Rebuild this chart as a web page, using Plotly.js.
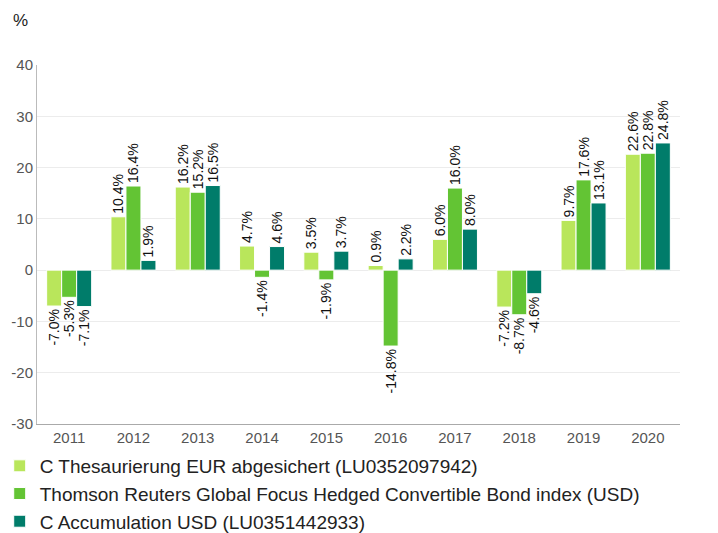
<!DOCTYPE html>
<html>
<head>
<meta charset="utf-8">
<script src="https://cdn.plot.ly/plotly-3.0.1.min.js"></script>
<style>html,body{margin:0;padding:0;background:#fff;}#chart{width:718px;height:533px;}</style>
</head>
<body>
<div id="chart"></div>
<script>
const years = ['2011','2012','2013','2014','2015','2016','2017','2018','2019','2020'];
const seriesNames = [
  'C Thesaurierung EUR abgesichert (LU0352097942)',
  'Thomson Reuters Global Focus Hedged Convertible Bond index (USD)',
  'C Accumulation USD (LU0351442933)'
];
const thesaurierungEUR = [-7.0, 10.4, 16.2, 4.7, 3.5, 0.9, 6.0, -7.2, 9.7, 22.6];
const thomsonIndex = [-5.3, 16.4, 15.2, -1.4, -1.9, -14.8, 16.0, -8.7, 17.6, 22.8];
const accumulationUSD = [-7.1, 1.9, 16.5, 4.6, 3.7, 2.2, 8.0, -4.6, 13.1, 24.8];
const colors = ['#b9e65b', '#63c434', '#007c6a'];
const yTicks = [-30, -20, -10, 0, 10, 20, 30, 40];

const seriesValues = [thesaurierungEUR, thomsonIndex, accumulationUSD];
const data = seriesValues.map((vals, i) => ({
  type: 'bar',
  name: seriesNames[i],
  x: years,
  y: vals,
  marker: {color: colors[i], line: {color: '#ffffff', width: 1}},
  texttemplate: '%{y:.1f}%',
  textposition: 'outside',
  textangle: -90,
  constraintext: 'none',
  cliponaxis: false,
  textfont: {family: 'Liberation Sans, Arial, sans-serif', size: 14, color: '#111'},
  hoverinfo: 'x+y+name'
}));

const layout = {
  width: 718, height: 533,
  margin: {l: 37, r: 38, t: 65, b: 109, autoexpand: false},
  paper_bgcolor: '#fff', plot_bgcolor: '#fff',
  barmode: 'group', bargap: 0.3, bargroupgap: 0.0,
  font: {family: 'Liberation Sans, Arial, sans-serif', color: '#444'},
  showlegend: true,
  legend: {
    orientation: 'v', x: -0.058, xanchor: 'left', y: -0.064, yanchor: 'top',
    font: {size: 19, color: '#222'}, traceorder: 'normal', itemwidth: 30,
    tracegroupgap: 0, bgcolor: 'rgba(0,0,0,0)'
  },
  xaxis: {
    type: 'category', showline: true, linecolor: '#aaa', linewidth: 1,
    ticks: '', tickfont: {size: 15, color: '#555'}, showgrid: false
  },
  yaxis: {
    range: [-30, 40], tickvals: yTicks, ticktext: yTicks.map(String),
    showline: true, linecolor: '#bbb', linewidth: 1,
    gridcolor: '#ececec', zeroline: true, zerolinecolor: '#ececec', zerolinewidth: 1,
    tickfont: {size: 15, color: '#555'}, ticks: '', ticklen: 0
  },
  annotations: [{
    text: '%', xref: 'paper', yref: 'paper', x: -0.04, y: 1.125, xanchor: 'left', yanchor: 'middle',
    showarrow: false, font: {size: 17, color: '#222'}
  }]
};

Plotly.newPlot('chart', data, layout, {displayModeBar: false, staticPlot: true});
</script>
</body>
</html>
